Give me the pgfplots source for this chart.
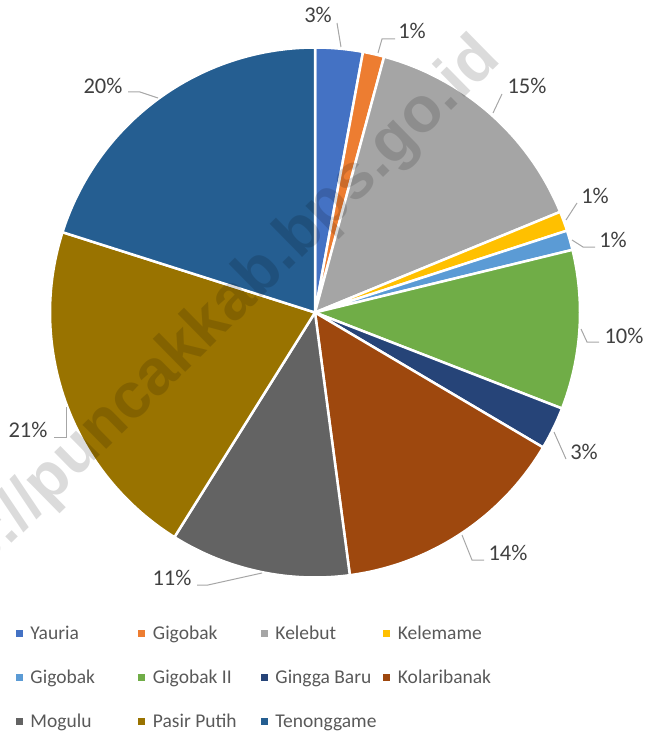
\documentclass[border=0pt]{standalone}
\usepackage{pgfplots}
\pgfplotsset{compat=1.18}
\usepackage{fontspec}
\setmainfont{Carlito}
\newfontfamily\wmfont{Liberation Sans}
\definecolor{cYauria}{HTML}{4472C4}
\definecolor{cGigobak}{HTML}{ED7D31}
\definecolor{cKelebut}{HTML}{A5A5A5}
\definecolor{cKelemame}{HTML}{FFC000}
\definecolor{cGigobakB}{HTML}{5B9BD5}
\definecolor{cGigobakII}{HTML}{70AD47}
\definecolor{cGingga}{HTML}{264478}
\definecolor{cKolari}{HTML}{9E480E}
\definecolor{cMogulu}{HTML}{636363}
\definecolor{cPasir}{HTML}{997300}
\definecolor{cTenong}{HTML}{255E91}
\definecolor{lbltext}{HTML}{404040}
\definecolor{legtext}{HTML}{595959}
\definecolor{leader}{HTML}{A6A6A6}
\newcommand\lblfont{\fontsize{22.5bp}{26bp}\selectfont}
\newcommand\legbox[1]{\makebox[106bp][l]{#1}}
\begin{document}
\begin{tikzpicture}
\begin{axis}[
  at={(0,0)}, anchor=south west,
  scale only axis, width=648bp, height=734bp,
  xmin=0, xmax=648, ymin=0, ymax=734, y dir=reverse,
  hide axis, clip=false,
  legend columns=4,
  legend cell align=left,
  legend image code/.code={\fill[#1,draw=none] (0bp,-3.5bp) rectangle (7bp,3.5bp);},
  legend style={draw=none, fill=none, at={(axis cs:16,624)}, anchor=north west,
    inner sep=0pt, outer sep=0pt, row sep=25bp,
    font=\fontsize{19.5bp}{23bp}\selectfont, text=legtext,
    /tikz/every odd column/.append style={column sep=5.5bp},
    /tikz/every even column/.append style={column sep=0bp}},
]
\def\cum{0}
\foreach \v/\c in {2.9/cYauria, 1.3/cGigobak, 14.6/cKelebut, 1.2/cKelemame, 1.2/cGigobakB, 9.7/cGigobakII, 2.6/cGingga, 14.4/cKolari, 11.0/cMogulu, 21.0/cPasir, 20.1/cTenong} {
  \pgfmathsetmacro\endc{\cum+\v}
  \pgfmathsetmacro\aS{90-3.6*\endc}
  \pgfmathsetmacro\aE{90-3.6*\cum}
  \edef\tmp{\noexpand\addplot[fill=\c, draw=white, line width=2.5bp, line join=round, domain=\aS:\aE, samples=60, variable=\noexpand\t] ({315+265*cos(\noexpand\t)},{312.5-265*sin(\noexpand\t)}) -- (axis cs:315,312.5) -- cycle;}
  \tmp
  \xdef\cum{\endc}
}
\legend{\legbox{Yauria},\legbox{Gigobak},\legbox{Kelebut},\legbox{Kelemame},
  \legbox{Gigobak},\legbox{Gigobak II},\legbox{Gingga Baru},\legbox{Kolaribanak},
  \legbox{Mogulu},\legbox{Pasir Putih},\legbox{Tenonggame}}
% leader lines
\draw[leader, line width=1bp] (axis cs:341,47)--(axis cs:337,23);
\draw[leader, line width=1bp] (axis cs:378,53)--(axis cs:382,39)--(axis cs:395,39);
\draw[leader, line width=1bp] (axis cs:493,113)--(axis cs:502,94);
\draw[leader, line width=1bp] (axis cs:566,220)--(axis cs:577,203);
\draw[leader, line width=1bp] (axis cs:572,240)--(axis cs:583,247)--(axis cs:595,247);
\draw[leader, line width=1bp] (axis cs:581,329)--(axis cs:587,342)--(axis cs:599,342);
\draw[leader, line width=1bp] (axis cs:554,432)--(axis cs:566,459);
\draw[leader, line width=1bp] (axis cs:462,535)--(axis cs:472,560)--(axis cs:484,560);
\draw[leader, line width=1bp] (axis cs:262,573)--(axis cs:208,585)--(axis cs:197,585);
\draw[leader, line width=1bp] (axis cs:66,407)--(axis cs:66,437)--(axis cs:54,437);
\draw[leader, line width=1bp] (axis cs:158,98)--(axis cs:140,92)--(axis cs:128,92);
% data labels
\begin{scope}[every node/.style={font=\lblfont, text=lbltext, anchor=base, inner sep=0pt}]
\node at (axis cs:318,23) {3\%};
\node at (axis cs:412,39) {1\%};
\node at (axis cs:527,94) {15\%};
\node at (axis cs:595,204) {1\%};
\node at (axis cs:613,247) {1\%};
\node at (axis cs:624,343) {10\%};
\node at (axis cs:584,459) {3\%};
\node at (axis cs:508,560) {14\%};
\node at (axis cs:172,585) {11\%};
\node at (axis cs:28,437) {21\%};
\node at (axis cs:103,94) {20\%};
\end{scope}
% watermark
\node[rotate=44.5, anchor=base east, inner sep=0pt, font=\wmfont\bfseries\fontsize{64bp}{70bp}\selectfont, text=black, text opacity=0.14] at (axis cs:502,61) {https://puncakkab.bps.go.id};
\end{axis}
\pgfresetboundingbox
\path[use as bounding box] (current axis.south west) rectangle (current axis.north east);
\end{tikzpicture}
\end{document}
